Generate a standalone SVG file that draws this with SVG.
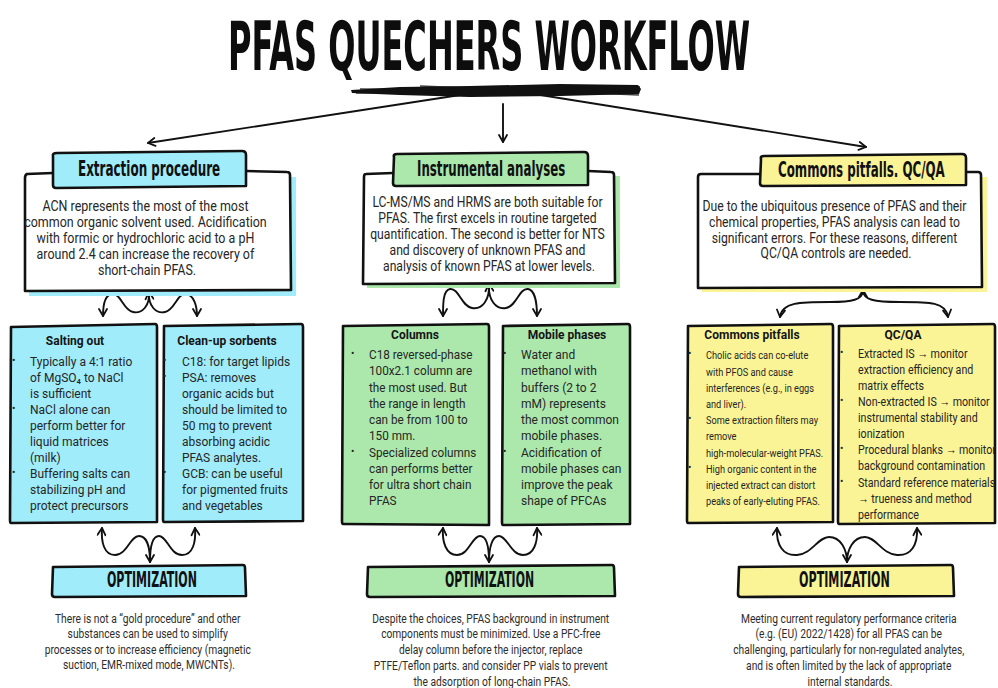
<svg xmlns="http://www.w3.org/2000/svg" width="998" height="688" viewBox="0 0 998 688">
  <defs>
    <marker id="ah" viewBox="0 0 10 10" refX="8.5" refY="5" markerWidth="10" markerHeight="10" markerUnits="userSpaceOnUse" orient="auto-start-reverse">
      <path d="M1.5,1 L8.5,5 L1.5,9" fill="none" stroke="#111" stroke-width="1.8" stroke-linecap="round" stroke-linejoin="round"/>
    </marker>
    <style>
      .title { font-family: "DejaVu Sans Condensed", "DejaVu Sans", sans-serif; font-weight: bold; font-size: 68px; fill: #0d0d0d; }
      .head { font-family: "DejaVu Sans Condensed", "DejaVu Sans", sans-serif; font-weight: bold; font-size: 22px; fill: #111; }
      .opt { font-family: "DejaVu Sans Condensed", "DejaVu Sans", sans-serif; font-weight: bold; font-size: 20.5px; fill: #111; }
      .body { font-family: Roboto, "Liberation Sans", sans-serif; font-size: 14px; fill: #262626; }
      .sub { font-family: Roboto, "Liberation Sans", sans-serif; font-size: 13.5px; fill: #262626; }
      .small { font-family: Roboto, "Liberation Sans", sans-serif; font-size: 11px; fill: #262626; }
      .note { font-family: Roboto, "Liberation Sans", sans-serif; font-size: 12.5px; fill: #2c2c2c; }
      .subt { font-family: Roboto, "Liberation Sans", sans-serif; font-weight: bold; font-size: 13.5px; fill: #151515; }
      .bul { font-family: Roboto, "Liberation Sans", sans-serif; font-size: 10px; fill: #222; }
      .edge { stroke: #111; stroke-width: 2.6; stroke-linejoin: round; stroke-linecap: round; }
      .cy { fill: #a0ecfa; }
      .gr { fill: #ace8ac; }
      .ye { fill: #faf496; }
      .wire { fill: none; stroke: #111; stroke-width: 1.9; stroke-linecap: round; }
    </style>
  </defs>

  <rect width="998" height="688" fill="#ffffff"/>

  <!-- Title with scribbled underline -->
  <g id="title">
    <g transform="translate(228,0) scale(0.52,1)">
      <text class="title" x="0" y="70" textLength="1004" lengthAdjust="spacingAndGlyphs">PFAS QUECHERS WORKFLOW</text>
    </g>
    <path d="M351,90 L400,87 L470,86 L560,84 L638,85 L641,89 L639,94 L560,96 L470,97 L400,95 L352,93 Z" fill="#111"/>
    <path d="M352,91 L640,87 M356,93 L636,90 M360,89 L630,92 M420,86 L639,95" fill="none" stroke="#111" stroke-width="1.4" opacity="0.8"/>
  </g>

  <!-- Connectors -->
  <g id="connectors">
    <path class="wire" d="M473,93 L148,143" stroke-width="2.4" marker-end="url(#ah)"/>
    <path class="wire" d="M503,104 L503,142" marker-end="url(#ah)"/>
    <path class="wire" d="M528,93 L866,147" stroke-width="2.4" marker-end="url(#ah)"/>

    <!-- extraction: main box to sub boxes -->
    <path class="wire" d="M149,292 C150,306 142,314 133,312 C123,310 121,293 112,294 C104,295 103,306 103,316" marker-start="url(#ah)" marker-end="url(#ah)"/>
    <path class="wire" d="M149,292 C148,306 156,314 165,312 C175,310 177,293 186,294 C194,295 197,306 197,316" marker-end="url(#ah)"/>
    <!-- extraction: sub boxes to optimization -->
    <path class="wire" d="M102,528 C101,542 104,555 115,555 C127,555 130,536 139,536 C147,536 150,548 150,562" marker-start="url(#ah)" marker-end="url(#ah)"/>
    <path class="wire" d="M195,528 C196,542 193,555 182,555 C170,555 167,536 159,536 C152,536 150,548 150,562" marker-start="url(#ah)"/>

    <!-- instrumental: main box to sub boxes -->
    <path class="wire" d="M489,284 C490,300 482,310 472,308 C461,306 459,288 450,289 C443,290 443,304 443,316" marker-start="url(#ah)" marker-end="url(#ah)"/>
    <path class="wire" d="M489,284 C488,300 496,310 506,308 C517,306 519,288 528,289 C535,290 537,304 537,316" marker-end="url(#ah)"/>
    <!-- instrumental: sub boxes to optimization -->
    <path class="wire" d="M443,528 C442,542 446,555 457,555 C469,555 472,536 480,536 C487,536 489,548 489,562" marker-start="url(#ah)" marker-end="url(#ah)"/>
    <path class="wire" d="M537,528 C538,542 534,555 523,555 C511,555 507,536 499,536 C492,536 489,548 489,562" marker-start="url(#ah)"/>

    <!-- pitfalls: main box to sub boxes -->
    <path class="wire" d="M863,290 C863,300 852,302 830,302 C800,302 782,302 780,317" marker-start="url(#ah)" marker-end="url(#ah)"/>
    <path class="wire" d="M863,290 C863,300 874,302 900,302 C930,302 946,302 948,317" marker-end="url(#ah)"/>
    <!-- pitfalls: sub boxes to optimization -->
    <path class="wire" d="M777,528 C776,545 783,556 797,555 C812,554 818,537 829,537 C841,537 847,550 847,562" marker-start="url(#ah)" marker-end="url(#ah)"/>
    <path class="wire" d="M917,528 C918,545 911,556 897,555 C882,554 876,537 865,537 C853,537 847,550 847,562" marker-start="url(#ah)"/>
  </g>

  <!-- ===== Column 1: extraction ===== -->
  <g id="extraction">
    <path class="cy" d="M29,178 L296,177 L296,296 L29,296 Z"/>
    <path d="M26,174 L290,173 L291,290 L25,291 Z" fill="#fff"/>
    <path class="edge" fill="none" d="M53,173 L27,174 Q25,175 25,178 L25,291 L291,290 L290,175 Q290,172 287,172 L246,171"/>
    <path class="cy edge" d="M53,156 Q52,153 57,153 L242,151 Q246,151 246,155 L246,186 L56,188 Q53,188 53,185 Z"/>
    <g transform="translate(78,0) scale(0.6,1)">
      <text class="head" x="0" y="176" textLength="237" lengthAdjust="spacingAndGlyphs">Extraction procedure</text>
    </g>
    <g transform="translate(147,0) scale(0.89,1)">
      <text class="body" text-anchor="middle">
        <tspan x="0" y="211">ACN represents the most of the most</tspan>
        <tspan x="0" y="227">common organic solvent used. Acidification</tspan>
        <tspan x="0" y="243">with formic or hydrochloric acid to a pH</tspan>
        <tspan x="0" y="259">around 2.4 can increase the recovery of</tspan>
        <tspan x="0" y="275">short-chain PFAS.</tspan>
      </text>
    </g>
  </g>

  <g id="salting-out">
    <path class="cy edge" d="M11,327 L155,324 Q157,324 157,327 L157,522 L11,523 Q10,523 10,520 Z"/>
    <g transform="translate(75,0) scale(0.89,1)">
      <text class="subt" x="0" y="345" text-anchor="middle">Salting out</text>
    </g>
    <text class="bul" x="12" y="364">•</text>
    <text class="bul" x="12" y="412">•</text>
    <text class="bul" x="12" y="476">•</text>
    <g transform="translate(30,0) scale(0.89,1)">
      <text class="sub">
        <tspan x="0" y="366">Typically a 4:1 ratio</tspan>
        <tspan x="0" y="382">of MgSO₄ to NaCl</tspan>
        <tspan x="0" y="398">is sufficient</tspan>
        <tspan x="0" y="414">NaCl alone can</tspan>
        <tspan x="0" y="430">perform better for</tspan>
        <tspan x="0" y="446">liquid matrices</tspan>
        <tspan x="0" y="462">(milk)</tspan>
        <tspan x="0" y="478">Buffering salts can</tspan>
        <tspan x="0" y="494">stabilizing pH and</tspan>
        <tspan x="0" y="510">protect precursors</tspan>
      </text>
    </g>
  </g>

  <g id="clean-up">
    <path class="cy edge" d="M164,326 L301,324 Q303,324 303,327 L303,521 L164,522 Q163,522 163,519 Z"/>
    <g transform="translate(227,0) scale(0.89,1)">
      <text class="subt" x="0" y="345" text-anchor="middle">Clean-up sorbents</text>
    </g>
    <text class="bul" x="163" y="364">•</text>
    <text class="bul" x="163" y="380">•</text>
    <text class="bul" x="163" y="476">•</text>
    <g transform="translate(182,0) scale(0.89,1)">
      <text class="sub">
        <tspan x="0" y="366">C18: for target lipids</tspan>
        <tspan x="0" y="382">PSA: removes</tspan>
        <tspan x="0" y="398">organic acids but</tspan>
        <tspan x="0" y="414">should be limited to</tspan>
        <tspan x="0" y="430">50 mg to prevent</tspan>
        <tspan x="0" y="446">absorbing acidic</tspan>
        <tspan x="0" y="462">PFAS analytes.</tspan>
        <tspan x="0" y="478">GCB: can be useful</tspan>
        <tspan x="0" y="494">for pigmented fruits</tspan>
        <tspan x="0" y="510">and vegetables</tspan>
      </text>
    </g>
  </g>

  <g id="opt-extraction">
    <path class="cy edge" d="M53,567 L243,565 Q245,565 245,568 L246,596 L55,597 Q52,597 52,594 Z"/>
    <g transform="translate(107,0) scale(0.59,1)">
      <text class="opt" x="0" y="587" textLength="152.5" lengthAdjust="spacingAndGlyphs">OPTIMIZATION</text>
    </g>
    <g transform="translate(149,0) scale(0.82,1)">
      <text class="note" text-anchor="middle">
        <tspan x="0" y="623">There is not a “gold procedure” and other</tspan>
        <tspan x="0" y="638">substances can be used to simplify</tspan>
        <tspan x="0" y="654">processes or to increase efficiency (magnetic</tspan>
        <tspan x="0" y="669">suction, EMR-mixed mode, MWCNTs).</tspan>
      </text>
    </g>
  </g>

  <!-- ===== Column 2: instrumental ===== -->
  <g id="instrumental">
    <path class="gr" d="M367,177 L620,176 L620,288 L367,288 Z"/>
    <path d="M364,173 L614,172 L615,283 L363,284 Z" fill="#fff"/>
    <path class="edge" fill="none" d="M393,173 L366,174 Q364,174 364,177 L363,284 L615,283 L614,175 Q614,172 611,172 L588,171"/>
    <path class="gr edge" d="M394,157 Q393,154 397,154 L584,152 Q588,152 588,156 L588,185 L396,186 Q393,186 393,183 Z"/>
    <g transform="translate(417,0) scale(0.6,1)">
      <text class="head" x="0" y="176" textLength="247" lengthAdjust="spacingAndGlyphs">Instrumental analyses</text>
    </g>
    <g transform="translate(489,0) scale(0.87,1)">
      <text class="body" text-anchor="middle">
        <tspan x="0" y="207">LC-MS/MS and HRMS are both suitable for</tspan>
        <tspan x="0" y="223">PFAS. The first excels in routine targeted</tspan>
        <tspan x="0" y="239">quantification. The second is better for NTS</tspan>
        <tspan x="0" y="255">and discovery of unknown PFAS and</tspan>
        <tspan x="0" y="271">analysis of known PFAS at lower levels.</tspan>
      </text>
    </g>
  </g>

  <g id="columns">
    <path class="gr edge" d="M343,326 L487,324 Q489,324 489,327 L489,525 L343,524 Q342,524 342,521 Z"/>
    <g transform="translate(415,0) scale(0.89,1)">
      <text class="subt" x="0" y="339" text-anchor="middle">Columns</text>
    </g>
    <text class="bul" x="351" y="357">•</text>
    <text class="bul" x="351" y="455">•</text>
    <g transform="translate(369,0) scale(0.87,1)">
      <text class="sub">
        <tspan x="0" y="359">C18 reversed-phase</tspan>
        <tspan x="0" y="375">100x2.1 column are</tspan>
        <tspan x="0" y="392">the most used. But</tspan>
        <tspan x="0" y="408">the range in length</tspan>
        <tspan x="0" y="424">can be from 100 to</tspan>
        <tspan x="0" y="440">150 mm.</tspan>
        <tspan x="0" y="457">Specialized columns</tspan>
        <tspan x="0" y="473">can performs better</tspan>
        <tspan x="0" y="489">for ultra short chain</tspan>
        <tspan x="0" y="505">PFAS</tspan>
      </text>
    </g>
  </g>

  <g id="mobile-phases">
    <path class="gr edge" d="M503,326 L628,324 Q630,324 630,327 L630,524 L503,525 Q502,525 502,522 Z"/>
    <g transform="translate(567,0) scale(0.89,1)">
      <text class="subt" x="0" y="339" text-anchor="middle">Mobile phases</text>
    </g>
    <text class="bul" x="503" y="357">•</text>
    <text class="bul" x="503" y="455">•</text>
    <g transform="translate(521,0) scale(0.89,1)">
      <text class="sub">
        <tspan x="0" y="359">Water and</tspan>
        <tspan x="0" y="375">methanol with</tspan>
        <tspan x="0" y="392">buffers (2 to 2</tspan>
        <tspan x="0" y="408">mM) represents</tspan>
        <tspan x="0" y="424">the most common</tspan>
        <tspan x="0" y="440">mobile phases.</tspan>
        <tspan x="0" y="457">Acidification of</tspan>
        <tspan x="0" y="473">mobile phases can</tspan>
        <tspan x="0" y="489">improve the peak</tspan>
        <tspan x="0" y="505">shape of  PFCAs</tspan>
      </text>
    </g>
  </g>

  <g id="opt-instrumental">
    <path class="gr edge" d="M368,567 L612,565 Q614,565 614,568 L615,596 L370,597 Q367,597 367,594 Z"/>
    <g transform="translate(445,0) scale(0.59,1)">
      <text class="opt" x="0" y="587" textLength="151" lengthAdjust="spacingAndGlyphs">OPTIMIZATION</text>
    </g>
    <g transform="translate(492,0) scale(0.82,1)">
      <text class="note" text-anchor="middle">
        <tspan x="0" y="623">Despite the choices, PFAS background in instrument</tspan>
        <tspan x="0" y="638">components must be minimized. Use a PFC-free</tspan>
        <tspan x="0" y="654">delay column before the injector, replace</tspan>
        <tspan x="0" y="670">PTFE/Teflon parts. and consider PP vials to prevent</tspan>
        <tspan x="0" y="686">the adsorption of long-chain PFAS.</tspan>
      </text>
    </g>
  </g>

  <!-- ===== Column 3: pitfalls and QC/QA ===== -->
  <g id="pitfalls-qc">
    <path class="ye" d="M702,178 L987,177 L987,292 L702,292 Z"/>
    <path d="M699,174 L981,173 L982,287 L698,288 Z" fill="#fff"/>
    <path class="edge" fill="none" d="M760,174 L701,174 Q698,174 698,177 L698,288 L982,287 L981,175 Q981,172 978,172 L966,172"/>
    <path class="ye edge" d="M761,159 Q760,156 764,156 L962,154 Q966,154 966,158 L966,185 L763,186 Q760,186 760,183 Z"/>
    <g transform="translate(778,0) scale(0.62,1)">
      <text class="head" x="0" y="177" textLength="269" lengthAdjust="spacingAndGlyphs">Commons pitfalls. QC/QA</text>
    </g>
    <g transform="translate(836,0) scale(0.87,1)">
      <text class="body" text-anchor="middle">
        <tspan x="0" y="211">Due to the ubiquitous presence of PFAS and their</tspan>
        <tspan x="0" y="227">chemical properties, PFAS analysis can lead to</tspan>
        <tspan x="0" y="243">significant errors. For these reasons, different</tspan>
        <tspan x="0" y="258">QC/QA controls are needed.</tspan>
      </text>
    </g>
  </g>

  <g id="common-pitfalls">
    <path class="ye edge" d="M688,326 L831,324 Q833,324 833,327 L833,522 L688,523 Q687,523 687,520 Z"/>
    <g transform="translate(752,0) scale(0.89,1)">
      <text class="subt" x="0" y="339" text-anchor="middle">Commons pitfalls</text>
    </g>
    <text class="bul" x="688" y="357">•</text>
    <text class="bul" x="688" y="422">•</text>
    <text class="bul" x="688" y="471">•</text>
    <g transform="translate(706,0) scale(0.84,1)">
      <text class="small">
        <tspan x="0" y="359">Cholic acids can co-elute</tspan>
        <tspan x="0" y="376">with PFOS and cause</tspan>
        <tspan x="0" y="392">interferences  (e.g., in eggs</tspan>
        <tspan x="0" y="408">and liver).</tspan>
        <tspan x="0" y="424">Some extraction filters may</tspan>
        <tspan x="0" y="440">remove</tspan>
        <tspan x="0" y="457">high-molecular-weight PFAS.</tspan>
        <tspan x="0" y="473">High organic content in the</tspan>
        <tspan x="0" y="489">injected extract can distort</tspan>
        <tspan x="0" y="505">peaks of early-eluting PFAS.</tspan>
      </text>
    </g>
  </g>

  <g id="qc-qa">
    <path class="ye edge" d="M839,326 L993,324 Q995,324 995,327 L995,523 L839,524 Q838,524 838,521 Z"/>
    <g transform="translate(903,0) scale(0.89,1)">
      <text class="subt" x="0" y="339" text-anchor="middle">QC/QA</text>
    </g>
    <text class="bul" x="840" y="356">•</text>
    <text class="bul" x="840" y="404">•</text>
    <text class="bul" x="840" y="452">•</text>
    <text class="bul" x="840" y="485">•</text>
    <g transform="translate(858,0) scale(0.79,1)">
      <text class="sub">
        <tspan x="0" y="358">Extracted IS → monitor</tspan>
        <tspan x="0" y="374">extraction efficiency and</tspan>
        <tspan x="0" y="390">matrix effects</tspan>
        <tspan x="0" y="406">Non-extracted IS → monitor</tspan>
        <tspan x="0" y="422">instrumental stability and</tspan>
        <tspan x="0" y="438">ionization</tspan>
        <tspan x="0" y="454">Procedural blanks → monitor</tspan>
        <tspan x="0" y="470">background contamination</tspan>
        <tspan x="0" y="487">Standard reference materials</tspan>
        <tspan x="0" y="503">→ trueness and method</tspan>
        <tspan x="0" y="519">performance</tspan>
      </text>
    </g>
  </g>

  <g id="opt-pitfalls">
    <path class="ye edge" d="M739,567 L951,565 Q953,565 953,568 L954,596 L741,597 Q738,597 738,594 Z"/>
    <g transform="translate(799,0) scale(0.59,1)">
      <text class="opt" x="0" y="587" textLength="154" lengthAdjust="spacingAndGlyphs">OPTIMIZATION</text>
    </g>
    <g transform="translate(850,0) scale(0.82,1)">
      <text class="note" text-anchor="middle">
        <tspan x="0" y="623">Meeting current regulatory performance criteria</tspan>
        <tspan x="0" y="638">(e.g. (EU) 2022/1428) for all PFAS can be</tspan>
        <tspan x="0" y="654">challenging, particularly for non-regulated analytes,</tspan>
        <tspan x="0" y="670">and is often limited by the lack of appropriate</tspan>
        <tspan x="0" y="686">internal standards.</tspan>
      </text>
    </g>
  </g>
</svg>
